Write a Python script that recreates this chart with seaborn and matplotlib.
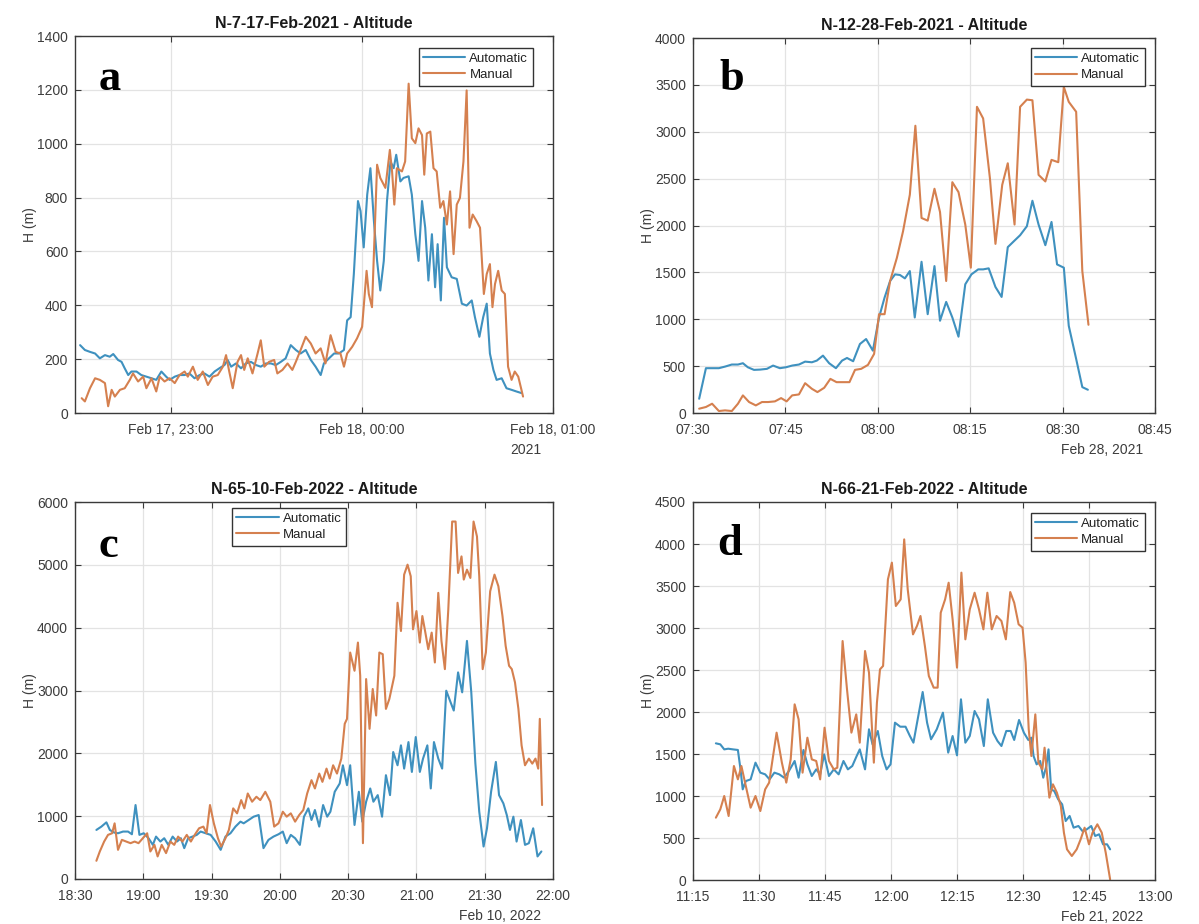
import numpy as np
import pandas as pd
import matplotlib
matplotlib.use("Agg")
import matplotlib.pyplot as plt
import matplotlib.dates as mdates
from matplotlib.ticker import MultipleLocator
import seaborn as sns

# ---------------- data: minutes after each panel's axis start, altitude H (m) ----------------
# (a) N-7, 17 Feb 2021, axis starts 22:30
a_auto_t = [1.6, 3.1, 4.7, 6.3, 7.8, 9.4, 10.9, 12.0, 13.5, 14.6, 15.6, 16.7, 17.7, 19.3, 20.8,
            22.4, 24.0, 25.5, 27.1, 28.6, 29.7, 31.3, 32.8, 34.4, 35.9, 37.5, 39.1, 40.6, 42.2,
            43.8, 45.3, 46.9, 47.9, 49.0, 50.5, 52.1, 53.6, 55.2, 56.8, 58.3, 59.9, 61.5, 63.0,
            64.6, 66.1, 67.7, 69.3, 70.8, 72.4, 74.0, 75.5, 77.1, 78.1, 79.7, 81.3, 82.8, 84.4,
            85.4, 86.5, 87.5, 88.8, 89.6, 90.6, 91.7, 92.7, 93.8, 94.8, 95.8, 96.9, 97.9, 99.0,
            100.0, 100.8, 102.1, 103.1, 104.7, 105.7, 106.8, 107.8, 108.9, 109.9, 110.9, 112.0,
            113.0, 113.8, 114.8, 115.8, 116.7, 118.2, 119.8, 121.4, 122.9, 124.5, 125.5, 126.9,
            128.1, 129.2, 130.2, 131.3, 132.3, 133.9, 135.4, 137.0, 138.5, 140.1]
a_auto_h = [252, 234, 227, 221, 203, 215, 209, 219, 197, 190, 166, 141, 154, 154, 141,
            135, 129, 123, 154, 135, 123, 135, 141, 141, 147, 129, 141, 147, 135,
            154, 166, 178, 197, 172, 184, 166, 184, 190, 178, 172, 184, 184, 178,
            190, 203, 252, 234, 221, 234, 197, 172, 141, 184, 203, 221, 221, 234,
            344, 356, 516, 787, 750, 615, 811, 909, 713, 565, 455, 565, 787, 934,
            909, 959, 860, 873, 879, 811, 664, 565, 787, 688, 492, 664,
            467, 627, 418, 725, 541, 504, 498, 406, 399, 418, 356, 283,
            356, 406, 221, 160, 123, 129, 92, 86, 80, 74]
a_man_t = [2.1, 3.1, 4.7, 6.3, 7.8, 9.4, 10.4, 11.5, 12.5, 14.1, 15.6, 17.2, 18.2, 19.8, 21.4,
           22.4, 24.0, 25.5, 26.6, 28.1, 29.7, 31.3, 32.8, 34.4, 35.4, 37.0, 38.5, 40.1, 41.7,
           43.2, 44.8, 46.4, 47.4, 48.4, 49.5, 51.0, 52.1, 53.1, 54.2, 55.7, 57.3, 58.3, 59.4,
           60.9, 62.5, 63.5, 65.1, 66.7, 68.2, 69.3, 70.8, 72.4, 74.0, 75.5, 77.1, 78.6, 80.2,
           81.8, 83.3, 84.4, 85.4, 87.0, 88.5, 90.1, 91.5, 92.2, 93.2, 94.8, 95.8, 97.4, 98.8,
           99.5, 100.2, 101.0, 102.6, 103.6, 104.7, 105.7, 106.8, 107.8, 108.9, 109.6, 110.4,
           111.5, 112.5, 113.5, 114.6, 115.6, 116.7, 117.7, 118.8, 119.8, 120.8, 121.9, 122.9,
           123.8, 124.8, 126.0, 127.1, 128.3, 129.2, 130.2, 131.0, 131.8, 132.8, 133.9, 134.9,
           135.9, 137.0, 138.0, 139.1, 140.1, 140.6]
a_man_h = [55, 43, 92, 129, 123, 111, 25, 86, 61, 86, 92, 123, 147, 117, 135,
           92, 129, 80, 135, 117, 129, 111, 141, 154, 135, 172, 123, 154, 104,
           135, 141, 172, 215, 154, 92, 190, 215, 160, 203, 147, 221, 270, 172,
           190, 197, 147, 160, 184, 160, 190, 234, 283, 258, 221, 240, 184, 289,
           227, 221, 172, 221, 246, 277, 320, 528, 442, 393, 922, 873, 836, 977,
           897, 774, 909, 897, 934, 1223, 1020, 1002, 1057, 1032, 885, 1038,
           1045, 909, 897, 762, 787, 700, 823, 590, 774, 799, 934, 1198,
           688, 737, 713, 688, 442, 516, 553, 393, 479, 528, 455, 442,
           172, 123, 154, 135, 86, 61]

# (b) N-12, 28 Feb 2021, axis starts 07:30
b_auto_t = [1.0, 2.1, 3.1, 4.2, 5.2, 6.3, 7.3, 8.1, 8.9, 9.9, 10.9, 12.0, 13.0, 14.1, 15.1,
            16.1, 17.2, 18.2, 19.3, 20.1, 21.1, 22.1, 23.2, 24.2, 25.0, 26.0, 27.1, 28.1, 29.2,
            30.2, 31.1, 32.0, 32.8, 33.6, 34.4, 35.2, 36.0, 37.1, 38.1, 39.2, 40.1, 41.1, 42.1,
            43.1, 44.2, 45.2, 46.3, 47.1, 48.0, 49.1, 50.1, 51.1, 52.1, 53.1, 54.2, 55.1, 56.1,
            57.2, 58.2, 59.1, 60.2, 61.0, 62.2, 63.2, 64.1]
b_auto_h = [152, 478, 478, 478, 495, 517, 517, 531, 488, 460, 463, 471, 506, 478, 488,
            506, 517, 548, 541, 559, 612, 531, 478, 559, 587, 552, 736, 789, 665,
            1019, 1231, 1408, 1479, 1472, 1436, 1514, 1019, 1613, 1054, 1567, 984, 1185, 1019,
            814, 1373, 1479, 1532, 1532, 1543, 1344, 1238, 1769, 1833, 1896, 1992, 2264, 2010,
            1790, 2038, 1585, 1550, 930, 577, 276, 248]
b_man_t = [1.0, 2.1, 3.1, 4.2, 5.2, 6.3, 7.3, 8.1, 9.1, 10.2, 11.2, 12.2, 13.3, 14.3, 15.2,
           16.1, 17.2, 18.2, 19.3, 20.2, 21.3, 22.3, 23.3, 24.4, 25.4, 26.3, 27.3, 28.4, 29.4,
           30.2, 31.1, 32.0, 33.1, 34.1, 35.2, 36.1, 37.1, 38.1, 39.2, 40.1, 41.1, 42.1, 43.1,
           44.2, 45.1, 46.1, 47.1, 48.2, 49.1, 50.2, 51.1, 52.2, 53.1, 54.2, 55.1, 56.1, 57.2,
           58.2, 59.3, 60.2, 61.0, 62.2, 63.2, 64.2]
b_man_h = [46, 64, 99, 21, 28, 21, 99, 188, 117, 81, 117, 117, 124, 159, 124,
           188, 198, 318, 258, 223, 269, 364, 329, 329, 329, 460, 471, 513, 630,
           1054, 1054, 1408, 1656, 1939, 2328, 3064, 2080, 2052, 2392, 2144, 1408, 2462, 2356,
           2010, 1550, 3266, 3142, 2505, 1804, 2434, 2664, 2010, 3266, 3343, 3336, 2540, 2470,
           2700, 2675, 3478, 3319, 3213, 1514, 941]

# (c) N-65, 10 Feb 2022, axis starts 18:30
c_auto_t = [9.4, 11.6, 13.8, 15.3, 17.2, 18.9, 21.1, 23.3, 25.0, 26.6,
            28.3, 30.2, 32.3, 34.2, 35.6, 37.5, 39.2, 41.0, 42.9, 44.8,
            46.5, 48.0, 49.7, 51.6, 53.5, 55.2, 57.4, 59.6, 61.8, 64.0,
            66.1, 68.3, 70.5, 72.7, 74.1, 76.3, 78.5, 80.7, 82.8, 85.0,
            87.2, 89.4, 91.3, 93.0, 94.8, 96.7, 98.8, 100.6, 102.5, 103.9,
            105.4, 107.3, 109.0, 110.8, 112.2, 114.1, 116.3, 117.7, 119.5, 120.9,
            122.8, 124.7, 126.2, 127.9, 129.7, 131.1, 133.0, 134.9, 136.6, 138.4,
            139.8, 141.7, 143.2, 144.6, 146.5, 148.0, 149.7, 151.5, 152.9, 154.8,
            156.3, 157.7, 159.6, 161.3, 163.1, 165.0, 166.4, 168.3, 170.1, 172.2,
            174.1, 175.9, 177.6, 179.5, 181.0, 182.8, 184.9, 186.3, 188.2, 189.7,
            191.1, 192.6, 194.0, 195.9, 197.7, 199.4, 201.3, 203.2, 204.9]
c_auto_h = [781, 834, 902, 781, 739, 728, 755, 755, 712, 1177,
            702, 728, 649, 543, 675, 596, 649, 543, 675, 596,
            649, 491, 649, 675, 702, 755, 728, 702, 596, 464,
            675, 728, 834, 913, 886, 939, 992, 1018, 491, 623,
            675, 712, 755, 570, 702, 649, 543, 992, 1124, 939,
            1098, 834, 1177, 992, 1071, 1388, 1520, 1810, 1493, 1810,
            860, 1388, 913, 1230, 1441, 1230, 1335, 992, 1652, 1335,
            2021, 1810, 2127, 1757, 2179, 1704, 2259, 1704, 1916, 2127,
            1441, 2179, 1916, 1757, 2997, 2813, 2681, 3288, 2971, 3789,
            2971, 1836, 1071, 517, 807, 1388, 1863, 1335, 1203, 1018,
            781, 992, 596, 939, 543, 570, 807, 359, 438]
c_man_t = [9.4, 10.9, 12.8, 14.5, 16.3, 17.4, 18.9, 20.6, 22.5, 24.4,
           26.2, 27.9, 29.8, 31.7, 33.1, 34.9, 36.3, 38.1, 40.0, 41.9,
           43.6, 45.3, 47.2, 49.1, 50.9, 52.6, 54.5, 56.4, 57.8, 59.3,
           61.0, 62.8, 64.2, 66.1, 67.6, 69.5, 71.2, 73.0, 74.4, 75.9,
           77.8, 79.7, 81.4, 83.6, 85.8, 87.5, 89.4, 91.3, 93.0, 94.8,
           96.7, 98.5, 100.3, 102.0, 103.9, 105.4, 107.3, 108.7, 110.5, 111.9,
           113.4, 115.1, 117.0, 118.5, 119.5, 120.9, 122.8, 124.3, 125.3, 126.5,
           127.9, 129.4, 130.8, 132.3, 133.7, 135.2, 136.6, 138.1, 140.3, 141.7,
           143.2, 144.6, 146.1, 147.5, 148.5, 150.0, 151.5, 152.6, 153.8, 155.2,
           156.7, 158.1, 159.6, 161.0, 162.5, 164.0, 165.7, 167.2, 168.3, 169.8,
           170.8, 172.2, 173.7, 175.1, 176.6, 177.6, 179.1, 180.5, 182.4, 184.3,
           186.0, 187.8, 189.2, 190.7, 191.9, 193.3, 194.8, 196.2, 197.7, 199.4,
           200.9, 202.3, 203.5, 204.2, 205.2]
c_man_h = [290, 438, 596, 702, 728, 886, 464, 623, 596, 570,
           596, 570, 649, 728, 438, 543, 359, 543, 412, 596,
           543, 675, 596, 702, 596, 702, 807, 834, 728, 1177,
           886, 649, 517, 649, 781, 1124, 1045, 1256, 1124, 1361,
           1230, 1309, 1256, 1388, 1230, 834, 886, 1071, 992, 1045,
           913, 1018, 1098, 1361, 1573, 1441, 1678, 1546, 1757, 1599,
           1810, 1678, 1916, 2470, 2549, 3604, 3314, 3763, 3235, 570,
           3182, 2390, 3024, 2602, 3604, 3578, 2707, 2865, 3235, 4396,
           3947, 4844, 5003, 4818, 3974, 4264, 3763, 4185, 3947, 3657,
           3921, 3446, 4554, 3789, 3340, 4290, 5689, 5689, 4871, 5134,
           4765, 4923, 4791, 5689, 5451, 4818, 3340, 3604, 4580, 4844,
           4660, 4185, 3710, 3393, 3340, 3129, 2707, 2127, 1810, 1916,
           1836, 1916, 1757, 2549, 1177]

# (d) N-66, 21 Feb 2022, axis starts 11:15
d_auto_t = [5.2, 6.2, 7.1, 8.0, 9.1, 10.2, 10.8, 11.3, 12.0, 13.1,
            14.2, 15.3, 16.4, 17.4, 18.5, 19.6, 20.7, 21.8, 23.1, 24.0,
            25.1, 26.0, 27.0, 28.0, 28.9, 29.8, 30.9, 32.0, 33.1, 34.2,
            35.2, 36.2, 37.2, 37.9, 39.1, 40.0, 40.8, 42.0, 43.0, 44.0,
            44.9, 45.9, 47.1, 48.3, 49.3, 50.1, 51.2, 52.2, 53.2, 54.1,
            55.4, 56.8, 58.0, 59.0, 60.0, 60.9, 61.9, 62.9, 64.0, 65.0,
            66.1, 67.0, 68.2, 69.2, 70.1, 71.2, 72.2, 73.0, 74.1, 75.2,
            76.2, 76.9, 77.4, 78.1, 78.9, 79.6, 80.3, 80.8, 81.4, 82.1,
            83.0, 83.9, 84.7, 85.6, 86.5, 87.6, 88.5, 89.5, 90.5, 91.4,
            92.3, 93.2, 94.1, 94.8]
d_auto_h = [1627, 1615, 1555, 1563, 1555, 1548, 1317, 1079, 1178, 1198,
            1397, 1278, 1258, 1198, 1278, 1258, 1218, 1298, 1417, 1218,
            1548, 1377, 1238, 1317, 1258, 1496, 1238, 1317, 1258, 1417,
            1317, 1357, 1476, 1555, 1317, 1794, 1615, 1774, 1476, 1317,
            1377, 1873, 1825, 1825, 1714, 1635, 1952, 2238, 1873, 1675,
            1794, 1992, 1516, 1714, 1484, 2151, 1635, 1714, 2012, 1913,
            1595, 2151, 1754, 1655, 1595, 1774, 1774, 1667, 1905, 1754,
            1667, 1694, 1476, 1377, 1417, 1218, 1357, 1555, 1079, 1059,
            960, 901, 702, 762, 623, 643, 583, 603, 643, 524,
            544, 425, 425, 365]
d_man_t = [5.2, 6.2, 7.1, 8.1, 9.3, 10.2, 11.0, 12.0, 13.1, 14.2,
           15.3, 16.4, 17.3, 18.2, 19.0, 20.2, 21.2, 22.2, 23.1, 24.0,
           24.9, 26.0, 27.0, 28.0, 28.9, 29.9, 30.9, 32.0, 32.8, 34.0,
           35.0, 36.0, 37.1, 37.9, 39.1, 40.0, 41.1, 41.8, 42.5, 43.2,
           44.3, 45.2, 46.1, 47.2, 48.0, 48.8, 50.0, 50.9, 51.7, 52.7,
           53.6, 54.7, 55.6, 56.3, 57.3, 58.1, 59.0, 60.0, 61.0, 61.9,
           62.9, 64.0, 65.0, 66.0, 66.9, 67.9, 69.0, 70.1, 71.1, 72.1,
           73.0, 74.0, 74.9, 75.6, 76.3, 76.9, 77.8, 78.5, 79.4, 79.9,
           80.5, 81.0, 81.8, 82.7, 83.6, 84.3, 85.0, 86.1, 87.2, 88.1,
           89.0, 90.0, 90.8, 91.9, 92.9, 93.8, 94.8]
d_man_h = [742, 841, 1000, 762, 1357, 1198, 1357, 1119, 861, 1000,
           821, 1079, 1159, 1476, 1754, 1397, 1159, 1436, 2091, 1913,
           1278, 1694, 1436, 1417, 1198, 1813, 1417, 1317, 1337, 2845,
           2270, 1754, 1972, 1635, 2726, 2468, 1397, 2111, 2508, 2548,
           3579, 3778, 3262, 3341, 4055, 3460, 2924, 3024, 3143, 2786,
           2428, 2290, 2290, 3182, 3341, 3539, 3103, 2528, 3659, 2865,
           3222, 3420, 3222, 2984, 3420, 2984, 3143, 3083, 2865, 3428,
           3301, 3044, 3004, 2587, 1794, 1476, 1972, 1397, 1317, 1575,
           1238, 980, 1139, 1040, 881, 563, 365, 286, 365, 484,
           623, 425, 563, 663, 563, 325, 8]

methods = ["Automatic", "Manual"]
letters = ["a", "b", "c", "d"]
titles = ["N-7-17-Feb-2021 - Altitude", "N-12-28-Feb-2021 - Altitude",
          "N-65-10-Feb-2022 - Altitude", "N-66-21-Feb-2022 - Altitude"]
axis_start = ["2021-02-17 22:30", "2021-02-28 07:30", "2022-02-10 18:30", "2022-02-21 11:15"]
axis_end = ["2021-02-18 01:00", "2021-02-28 08:45", "2022-02-10 22:00", "2022-02-21 13:00"]
date_notes = ["2021", "Feb 28, 2021", "Feb 10, 2022", "Feb 21, 2022"]
y_max = [1400, 4000, 6000, 4500]
y_step = [200, 500, 1000, 500]
series = [(a_auto_t, a_auto_h, a_man_t, a_man_h),
          (b_auto_t, b_auto_h, b_man_t, b_man_h),
          (c_auto_t, c_auto_h, c_man_t, c_man_h),
          (d_auto_t, d_auto_h, d_man_t, d_man_h)]

# ---------------- style ----------------
sns.set_theme(style="whitegrid")
plt.rcParams["font.family"] = ["Liberation Sans", "DejaVu Sans"]
BLUE = "#3f91bf"
ORANGE = "#d5804f"
palette = {"Automatic": BLUE, "Manual": ORANGE}
AX_COL = "#3a3a3a"
TXT_COL = "#3c3c3c"

W, H = 1199, 924
fig = plt.figure(figsize=(W / 100, H / 100), dpi=100)

# axes boxes in pixels: left, top, right, bottom
boxes = [(75, 36, 553, 413), (693, 38, 1155, 413), (75, 502, 553, 879), (693, 502, 1155, 880)]
legend_loc = ["upper right", "upper right", "upper left", "upper right"]
legend_anchor = [(0.958, 0.968), (0.978, 0.973), (0.328, 0.984), (0.978, 0.971)]
letter_pos = [(0.05, 0.857), (0.058, 0.861), (0.05, 0.854), (0.052, 0.86)]
x_locators = [mdates.HourLocator(),
              mdates.MinuteLocator(byminute=[0, 15, 30, 45]),
              mdates.MinuteLocator(byminute=[0, 30]),
              mdates.MinuteLocator(byminute=[0, 15, 30, 45])]
x_formats = ["%b %d, %H:%M", "%H:%M", "%H:%M", "%H:%M"]

for i in range(4):
    l, t, r, b = boxes[i]
    ax = fig.add_axes([l / W, 1 - b / H, (r - l) / W, (b - t) / H])
    at, ah, mt, mh = series[i]
    t0 = pd.Timestamp(axis_start[i])
    df = pd.concat([
        pd.DataFrame({"time": t0 + pd.to_timedelta(at, unit="min"), "H": ah, "method": "Automatic"}),
        pd.DataFrame({"time": t0 + pd.to_timedelta(mt, unit="min"), "H": mh, "method": "Manual"}),
    ], ignore_index=True)
    sns.lineplot(data=df, x="time", y="H", hue="method", hue_order=methods, palette=palette,
                 estimator=None, sort=False, linewidth=1.5, legend=False, ax=ax)

    ax.set_xlim(pd.Timestamp(axis_start[i]), pd.Timestamp(axis_end[i]))
    ax.set_ylim(0, y_max[i])
    ax.yaxis.set_major_locator(MultipleLocator(y_step[i]))
    ax.xaxis.set_major_locator(x_locators[i])
    ax.xaxis.set_major_formatter(mdates.DateFormatter(x_formats[i]))

    ax.set_facecolor("white")
    ax.grid(True, color="#e3e3e3", linewidth=0.9)
    ax.set_axisbelow(True)
    for sp in ax.spines.values():
        sp.set_visible(True)
        sp.set_color(AX_COL)
        sp.set_linewidth(1.0)
    ax.tick_params(axis="both", which="major", direction="in", length=4, width=0.8,
                   color=AX_COL, labelcolor=TXT_COL, labelsize=10,
                   top=True, right=True, bottom=True, left=True)
    ax.tick_params(axis="x", pad=7)
    ax.tick_params(axis="y", pad=5)

    ax.set_xlabel("")
    ax.set_ylabel("H (m)", fontsize=10, color=TXT_COL, labelpad=0)
    ax.set_title(titles[i], fontsize=11.5, fontweight="bold", color="#1a1a1a", pad=6)

    ax.annotate(date_notes[i], xy=(1, 0), xycoords="axes fraction", xytext=(-12, -37),
                textcoords="offset pixels", ha="right", va="center", fontsize=10, color=TXT_COL)

    ax.text(letter_pos[i][0], letter_pos[i][1], letters[i], transform=ax.transAxes,
            fontsize=32, fontweight="bold", family="Liberation Serif", color="black",
            va="baseline", ha="left")

    leg = ax.legend(handles=ax.lines[:2], labels=methods, loc=legend_loc[i],
                    bbox_to_anchor=legend_anchor[i], fontsize=9.5, frameon=True, fancybox=False,
                    framealpha=1, edgecolor="#333333", handlelength=3.2, handletextpad=0.3,
                    borderpad=0.35, labelspacing=0.3, borderaxespad=0)
    leg.get_frame().set_linewidth(1.0)
    for txt in leg.get_texts():
        txt.set_color("#222222")

fig.savefig("out.png", dpi=100, facecolor="white")
